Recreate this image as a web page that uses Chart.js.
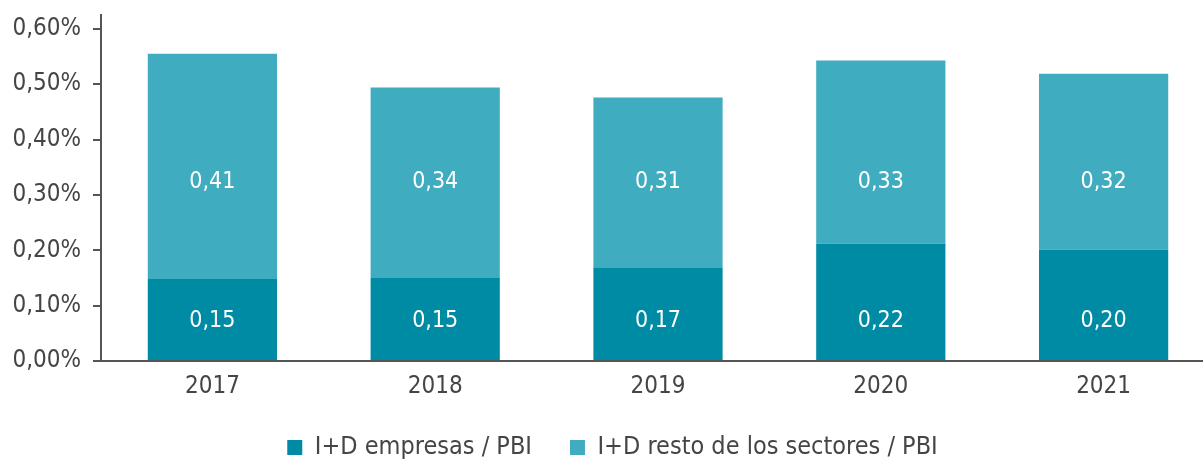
<!DOCTYPE html>
<html>
<head>
<meta charset="utf-8">
<script src="https://cdn.jsdelivr.net/npm/chart.js@4/dist/chart.umd.min.js"></script>
<style>
html,body{margin:0;padding:0;background:#fff;overflow:hidden;}
#wrap{width:1215px;height:470px;position:relative;}
</style>
</head>
<body>
<div id="wrap"><canvas id="c"></canvas></div>
<script>
const categories = ['2017', '2018', '2019', '2020', '2021'];
const empresas = [0.148, 0.150, 0.168, 0.212, 0.201];
const resto = [0.407, 0.344, 0.308, 0.331, 0.318];
const empresasLabels = ['0,15', '0,15', '0,17', '0,22', '0,20'];
const restoLabels = ['0,41', '0,34', '0,31', '0,33', '0,32'];
const seriesNames = ['I+D empresas / PBI', 'I+D resto de los sectores / PBI'];
const yTicks = [0, 0.1, 0.2, 0.3, 0.4, 0.5, 0.6];

const FONT = "'DejaVu Sans Condensed', 'DejaVu Sans', sans-serif";
const TXT = '#454545';
const AXIS = '#555555';

const labelPlugin = {
  id: 'segLabels',
  afterDatasetsDraw(chart, args, opts) {
    const ctx = chart.ctx;
    const lbls = [empresasLabels, restoLabels];
    const yScale = chart.scales.y;
    ctx.save();
    ctx.fillStyle = '#ffffff';
    ctx.font = "23px " + FONT;
    ctx.textAlign = 'center';
    ctx.textBaseline = 'middle';
    chart.data.datasets.forEach((ds, di) => {
      const meta = chart.getDatasetMeta(di);
      const y = yScale.getPixelForValue(opts.levels[di]);
      meta.data.forEach((el, i) => {
        const p = el.getProps(['x'], true);
        ctx.fillText(lbls[di][i], p.x, y);
      });
    });
    ctx.restore();
  }
};

new Chart(document.getElementById('c'), {
  type: 'bar',
  data: {
    labels: categories,
    datasets: [
      { label: seriesNames[0], data: empresas, backgroundColor: '#008ba4', borderWidth: 0 },
      { label: seriesNames[1], data: resto, backgroundColor: '#40acc0', borderWidth: 0 }
    ]
  },
  options: {
    responsive: true,
    maintainAspectRatio: false,
    animation: false,
    layout: { padding: { top: 15, right: 0, bottom: 0, left: 10 } },
    datasets: { bar: { categoryPercentage: 1.0, barPercentage: 0.58 } },
    plugins: {
      segLabels: { levels: [0.072, 0.324] },
      legend: {
        position: 'bottom',
        labels: {
          font: { family: FONT, size: 25 },
          color: TXT,
          boxWidth: 15,
          boxHeight: 15,
          padding: 38
        }
      },
      tooltip: { enabled: false }
    },
    scales: {
      x: {
        stacked: true,
        grid: { display: false, drawTicks: false },
        border: { display: true, color: AXIS, width: 2 },
        ticks: { font: { family: FONT, size: 24 }, color: TXT, padding: 11 },
        afterFit(scale) { scale.height = 36; scale.paddingLeft = 0; scale.paddingRight = 0; }
      },
      y: {
        stacked: true,
        min: 0,
        max: 0.625,
        afterBuildTicks(axis) {
          axis.ticks = yTicks.map(v => ({ value: v }));
        },
        afterFit(scale) { scale.width = 91; scale.paddingTop = 0; scale.paddingBottom = 0; },
        grid: { display: true, drawOnChartArea: false, drawTicks: true, tickLength: 8, color: AXIS, lineWidth: 2 },
        border: { display: true, color: AXIS, width: 2 },
        ticks: {
          font: { family: FONT, size: 24 },
          color: TXT,
          padding: 12,
          callback: v => v.toFixed(2).replace('.', ',') + '%'
        }
      }
    }
  },
  plugins: [labelPlugin]
});
</script>
</body>
</html>
